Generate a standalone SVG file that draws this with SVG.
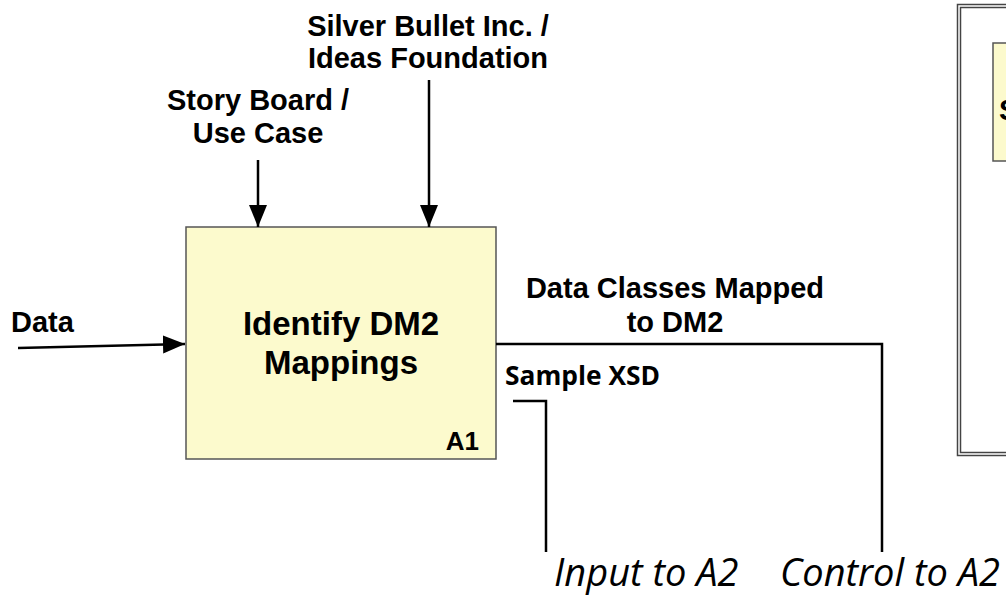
<svg xmlns="http://www.w3.org/2000/svg" width="1006" height="595" viewBox="0 0 1006 595">
  <style>
    .lbl { font-family: "Liberation Sans", Arial, sans-serif; font-weight: bold; font-size: 29px; fill: #000; }
    .title { font-family: "Liberation Sans", Arial, sans-serif; font-weight: bold; font-size: 33px; fill: #000; }
    .code { font-family: "Liberation Sans", Arial, sans-serif; font-weight: bold; font-size: 26px; fill: #000; }
    .cal { font-family: "Open Sans", "Noto Sans", sans-serif; font-weight: bold; font-size: 27px; fill: #000; }
    .note { font-family: "Open Sans", "Noto Sans", sans-serif; font-style: italic; font-size: 38px; fill: #000; }
    .wire { fill: none; stroke: #000; stroke-width: 2.5; }
    .box { fill: #FCFACD; stroke: #555; stroke-width: 1.5; }
  </style>
  <defs>
    <marker id="head" viewBox="0 0 22 18" refX="22" refY="9" markerWidth="22" markerHeight="18" markerUnits="userSpaceOnUse" orient="auto">
      <path d="M0,0 L22,9 L0,18 z" fill="#000"/>
    </marker>
  </defs>
  <rect width="1006" height="595" fill="#fff"/>

  <!-- activity A1 -->
  <g id="node-a1">
    <rect class="box" x="186" y="227" width="310" height="232"/>
    <text class="title" x="341" y="335" text-anchor="middle">Identify DM2</text>
    <text class="title" x="341" y="374" text-anchor="middle">Mappings</text>
    <text class="code" x="479" y="450" text-anchor="end">A1</text>
  </g>

  <!-- neighbouring diagram frame, running off the right edge -->
  <g id="node-frame">
    <rect x="957.5" y="4.5" width="60" height="451" fill="none" stroke="#444" stroke-width="1.5"/>
    <rect x="960.5" y="7.5" width="60" height="445" fill="none" stroke="#444" stroke-width="1.5"/>
    <rect class="box" x="993" y="43" width="30" height="118"/>
    <text class="lbl" x="999" y="120" font-size="24">S</text>
  </g>

  <!-- connectors -->
  <g id="connectors">
    <line class="wire" x1="18" y1="348" x2="185" y2="344" marker-end="url(#head)"/>
    <line class="wire" x1="258" y1="160" x2="258" y2="227" marker-end="url(#head)"/>
    <line class="wire" x1="429" y1="80" x2="429" y2="227" marker-end="url(#head)"/>
    <polyline class="wire" points="496,344 882,344 882,552"/>
    <polyline class="wire" points="513,401 546,401 546,552"/>
  </g>

  <!-- arrow labels -->
  <g id="labels">
    <text class="lbl" x="11" y="332">Data</text>
    <text class="lbl" x="428" y="36" text-anchor="middle">Silver Bullet Inc. /</text>
    <text class="lbl" x="428" y="68" text-anchor="middle">Ideas Foundation</text>
    <text class="lbl" x="258" y="110" text-anchor="middle">Story Board /</text>
    <text class="lbl" x="258" y="143" text-anchor="middle">Use Case</text>
    <text class="lbl" x="675" y="298" text-anchor="middle">Data Classes Mapped</text>
    <text class="lbl" x="675" y="332" text-anchor="middle">to DM2</text>
    <text class="cal" x="505" y="385" textLength="155" lengthAdjust="spacingAndGlyphs">Sample XSD</text>
    <text class="note" x="554" y="586">Input to A2</text>
    <text class="note" x="1000" y="586" text-anchor="end">Control to A2</text>
  </g>
</svg>
